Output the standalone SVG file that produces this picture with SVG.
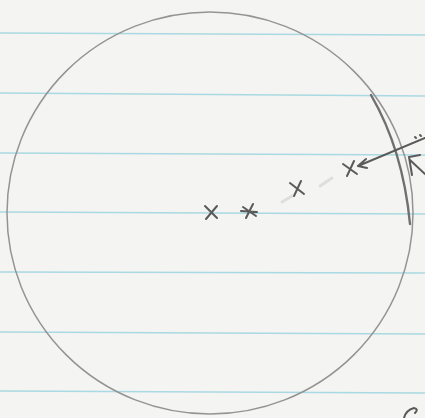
<svg xmlns="http://www.w3.org/2000/svg" width="425" height="418" viewBox="0 0 425 418">
<style>
.rule{stroke:#a9d9e2;stroke-width:1.4;fill:none}
.pencil{stroke:#949494;stroke-width:1.5;fill:none;stroke-linecap:round}
.dark{stroke:#5a5a5a;stroke-width:2;fill:none;stroke-linecap:round}
.faint{stroke:#dedede;stroke-width:3;fill:none;stroke-linecap:round}
</style>
<rect width="425" height="418" fill="#f4f4f2"/>
<g id="paper-lines">
<path class="rule" d="M0 33 L425 35"/>
<path class="rule" d="M0 93 L425 96"/>
<path class="rule" d="M0 153 L425 155"/>
<path class="rule" d="M0 212 L425 214"/>
<path class="rule" d="M0 272 L425 273"/>
<path class="rule" d="M0 332 L425 334"/>
<path class="rule" d="M0 391 L425 393"/>
</g>
<g id="circle">
<ellipse class="pencil" cx="210" cy="213" rx="203" ry="201"/>
<path d="M371 95 Q403 150 410 224" stroke="#707070" stroke-width="2.4" fill="none" stroke-linecap="round"/>
</g>
<g id="erased">
<path class="faint" d="M282 202 L292 196"/>
<path class="faint" d="M320 186 L332 178"/>
</g>
<g id="cross-1"><path class="dark" d="M205 206 L217 218 M217 206 L206 219"/></g>
<g id="cross-2"><path class="dark" d="M243 207 L256 216 M253 204 L246 218 M241 211 L257 212"/></g>
<g id="cross-3"><path class="dark" d="M290 183 L304 194 M301 181 L294 196"/></g>
<g id="cross-4"><path class="dark" d="M343 164 L357 174 M354 161 L347 176"/></g>
<g id="connectors">
<path class="dark" stroke-width="1.6" d="M425 138 L358 166 M358 166 L366 159 M358 166 L367 168"/>
<path class="dark" stroke-width="1.6" d="M420 155 L409 157 L412 175 M410 160 L425 174"/>
<path class="dark" stroke-width="1.4" d="M415 137 L416 138 M420 135 L421 136"/>
<path class="dark" stroke-width="1.2" d="M404 418 Q406 410 414 408 Q419 409 415 413"/>
</g>
</svg>
